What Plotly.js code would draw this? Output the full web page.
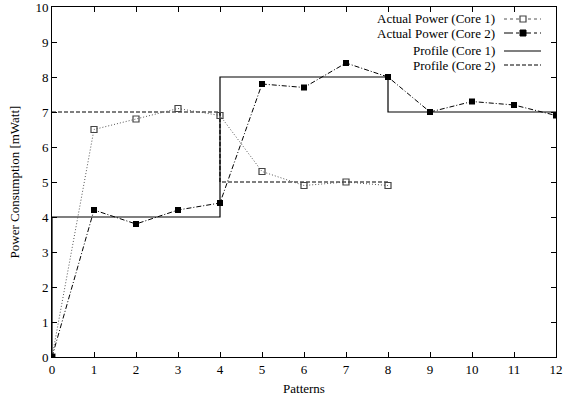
<!DOCTYPE html>
<html><head><meta charset="utf-8">
<script src="https://cdn.plot.ly/plotly-3.0.1.min.js"></script>
<style>body{margin:0;background:#fff}#c{width:563px;height:402px}</style>
</head><body><div id="c"></div>
<script>
var patterns1 = [0,1,2,3,4,5,6,7,8];
var actualCore1 = [0,6.5,6.8,7.1,6.9,5.3,4.9,5.0,4.9];
var patterns2 = [0,1,2,3,4,5,6,7,8,9,10,11,12];
var actualCore2 = [0,4.2,3.8,4.2,4.4,7.8,7.7,8.4,8.0,7.0,7.3,7.2,6.9];
var profile1X = [0,0,4,4,8,8,12];
var profile1Y = [0,4,4,8,8,7,7];
var profile2X = [0,4,4,8];
var profile2Y = [7,7,5,5];
var seriesNames = ["Actual Power (Core 1)","Actual Power (Core 2)","Profile (Core 1)","Profile (Core 2)"];

var font = "Liberation Serif, Times New Roman, serif";
var traces = [
  {x:profile1X, y:profile1Y, mode:'lines', line:{color:'#000',width:1.2}, name:seriesNames[2]},
  {x:profile2X, y:profile2Y, mode:'lines', line:{color:'#000',width:1.2,dash:'4px,2px'}, name:seriesNames[3]},
  {x:patterns1, y:actualCore1, mode:'lines+markers', line:{color:'#555',width:1,dash:'1px,2px'},
   marker:{symbol:'square-open',size:6,color:'#444',line:{width:1.2}}, name:seriesNames[0]},
  {x:patterns2, y:actualCore2, mode:'lines+markers', line:{color:'#000',width:1,dash:'5px,2px,1px,2px'},
   marker:{symbol:'square',size:6,color:'#000'}, name:seriesNames[1]}
];

// custom legend (text on left, sample on right, gnuplot style)
var rows = [19,33,51,65];
var styles = [
  {color:'#555',width:1,dash:'dot'},
  {color:'#000',width:1,dash:'dashdot'},
  {color:'#000',width:1.2},
  {color:'#000',width:1.2,dash:'4px,2px'}
];
var annotations = [], shapes = [];
var H = 402-7-45, W = 563-52-7;
function px(x){return (x-52)/W;}
function py(y){return 1-(y-7)/H;}
for (var i=0;i<4;i++){
  annotations.push({xref:'paper',yref:'paper',x:px(497),y:py(rows[i]),xanchor:'right',yanchor:'middle',
    text:seriesNames[i],showarrow:false,font:{family:font,size:13,color:'#000'}});
  shapes.push({type:'line',xref:'paper',yref:'paper',x0:px(504),x1:px(541),y0:py(rows[i]),y1:py(rows[i]),line:styles[i]});
}
shapes.push({type:'rect',xref:'paper',yref:'paper',x0:px(520),x1:px(526),y0:py(rows[0]-3),y1:py(rows[0]+3),line:{color:'#444',width:1.2},fillcolor:'#fff'});
shapes.push({type:'rect',xref:'paper',yref:'paper',x0:px(520),x1:px(526),y0:py(rows[1]-3),y1:py(rows[1]+3),line:{color:'#000',width:1},fillcolor:'#000'});

function axis(extra){
  return Object.assign({showgrid:false, zeroline:false, showline:true, linecolor:'#000', linewidth:1, mirror:'ticks',
    ticks:'inside', ticklen:5, tickcolor:'#000', tickfont:{family:font,size:13,color:'#000'}, dtick:1,
    ticklabeloverflow:'allow', automargin:false}, extra);
}
var layout = {
  width:563, height:402, margin:{l:52,r:7,t:7,b:45},
  paper_bgcolor:'#fff', plot_bgcolor:'#fff', showlegend:false,
  font:{family:font,color:'#000'},
  xaxis:axis({range:[0,12], title:{text:'Patterns', font:{family:font,size:13,color:'#000'}, standoff:8}}),
  yaxis:axis({range:[0,10], title:{text:'Power Consumption [mWatt]', font:{family:font,size:13,color:'#000'}, standoff:12}}),
  annotations:annotations, shapes:shapes
};
Plotly.newPlot('c', traces, layout, {staticPlot:true});
</script></body></html>
